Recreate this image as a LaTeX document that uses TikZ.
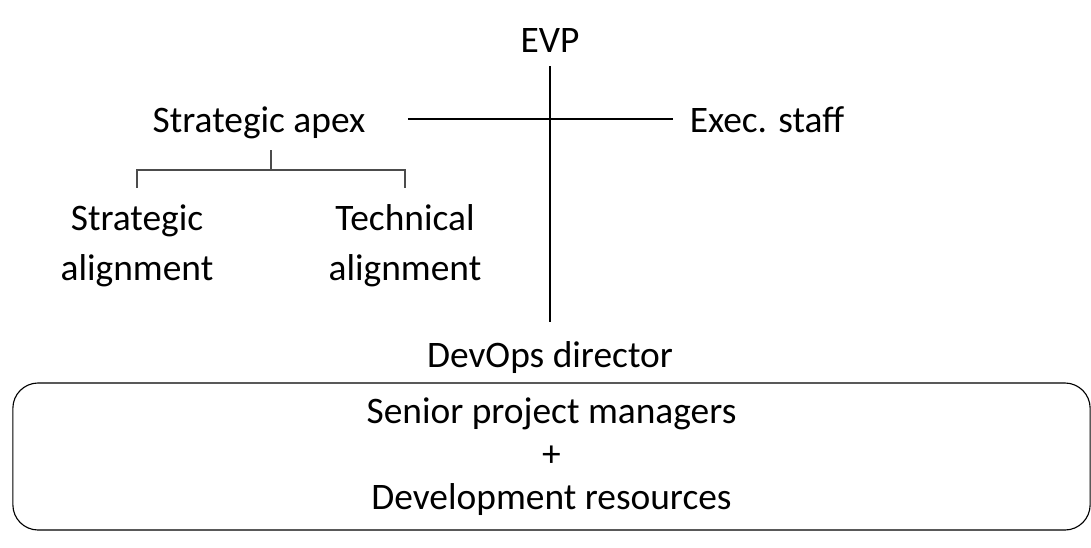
\documentclass[tikz,border=0pt]{standalone}
\usepackage{fontspec}
\setmainfont{Carlito}
\usetikzlibrary{positioning}
\tikzset{
    mynode/.style = {inner sep=0pt, align=center, font=\fontsize{26.6}{35.5}\selectfont, text=black},
    myboxnode/.style = {draw=black, thick, rounded corners=18pt, align=center, inner sep=0pt,
        font=\fontsize{26.6}{30.4}\selectfont, minimum width=26.925cm, minimum height=3.675cm},
    edgen/.style = {-, thick, black},
    edgeg/.style = {-, thick, black!70}
}
\begin{document}
\begin{tikzpicture}[x=0.025cm, y=-0.025cm]
  \useasboundingbox (0,0) rectangle (1091,547);
  % top line
  \node[mynode, anchor=base] (evp) at (550,52) {EVP};
  \node[mynode, anchor=base] (apex) at (259,132) {Strategic apex};
  \node[mynode, anchor=base] (exec) at (767,132) {Exec. staff};
  \node[mynode, anchor=base] (devops) at (550,367) {DevOps director};
  % alignment
  \node[mynode] (salign) at (137,246) {Strategic\\alignment};
  \node[mynode] (talign) at (405,246) {Technical\\alignment};
  % resources
  \node[myboxnode] (res) at (551.5,456.5) {Senior project managers\\+\\Development resources};
  \coordinate (cross) at (550,119);
  \coordinate (fork) at (271,170);
  \draw[edgen] ([yshift=-10pt]evp.south) -- ([yshift=13pt]devops.north);
  \draw[edgen] ([xshift=30pt]apex.east |- cross) -- ([xshift=-12pt]exec.west |- cross);
  \draw[edgeg] (fork) -- ++(0,-20);
  \draw[edgeg] ([yshift=12pt]salign.north) -- (salign.north |- fork) -- (talign.north |- fork) -- ([yshift=12pt]talign.north);
\end{tikzpicture}
\end{document}
